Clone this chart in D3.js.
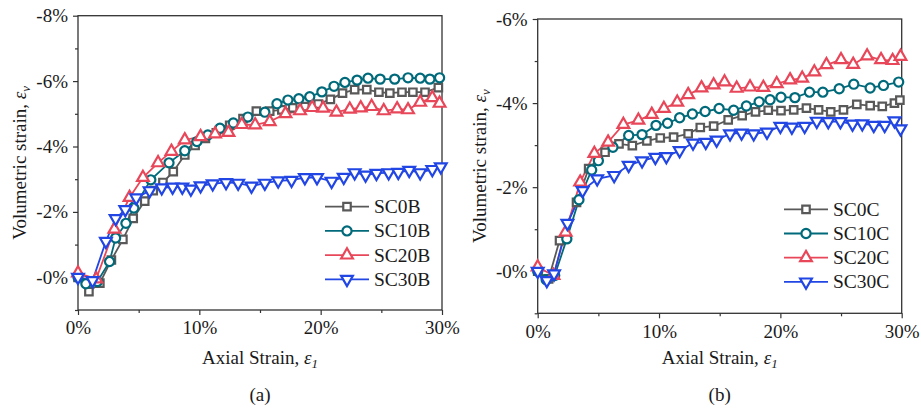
<!DOCTYPE html>
<html><head><meta charset="utf-8">
<script src="https://cdn.jsdelivr.net/npm/d3@7/dist/d3.min.js"></script>
<style>body{margin:0;background:#fff}svg{display:block}</style>
</head><body>
<svg id="chart" width="921" height="409"></svg>
<script>
// ---------- DATA: [axial strain %, volumetric strain %] ----------
const seriesNamesA = ["SC0B", "SC10B", "SC20B", "SC30B"];
const seriesNamesB = ["SC0C", "SC10C", "SC20C", "SC30C"];
const xTickValues = [0, 10, 20, 30];
const yTicksA = [-8, -6, -4, -2, 0];
const yTicksB = [-6, -4, -2, 0];

const sc0B = [[0,0],[0.9,0.44],[1.8,0.18],[2.75,-0.53],[3.7,-1.16],[4.55,-1.8],[5.5,-2.33],[6.2,-2.65],[7.0,-2.9],[7.85,-3.23],[8.8,-3.74],[9.65,-4.03],[10.5,-4.25],[11.4,-4.42],[12.5,-4.65],[13.6,-4.85],[14.7,-5.08],[15.8,-5.08],[16.8,-5.12],[17.7,-5.18],[18.7,-5.22],[19.8,-5.3],[20.8,-5.44],[21.8,-5.63],[22.8,-5.74],[23.8,-5.74],[24.8,-5.66],[25.7,-5.63],[26.7,-5.66],[27.6,-5.66],[28.6,-5.66],[29.7,-5.8]];
const sc10B = [[0,0],[0.65,0.2],[1.6,0.13],[2.6,-0.48],[3.1,-1.2],[3.95,-1.65],[4.6,-2.12],[6.0,-2.98],[7.5,-3.5],[8.8,-3.87],[9.8,-4.15],[10.7,-4.35],[11.7,-4.56],[12.8,-4.72],[14.0,-4.9],[15.4,-5.05],[16.4,-5.31],[17.3,-5.42],[18.2,-5.46],[19.1,-5.52],[20.1,-5.67],[21.1,-5.84],[22.0,-5.96],[23.0,-6.03],[23.9,-6.09],[24.9,-6.06],[26.1,-6.06],[27.2,-6.1],[28.2,-6.09],[29.0,-6.06],[29.8,-6.1]];
const sc20B = [[0,-0.13],[1.5,0.05],[3.0,-1.47],[4.25,-2.44],[5.35,-3.05],[6.6,-3.5],[7.7,-3.85],[8.8,-4.2],[10.1,-4.3],[11.3,-4.38],[12.4,-4.43],[13.5,-4.67],[14.6,-4.66],[15.8,-4.76],[17.1,-5.0],[18.3,-5.09],[19.3,-5.19],[20.2,-5.17],[21.3,-5.05],[22.4,-5.14],[23.3,-5.18],[24.2,-5.22],[25.2,-5.09],[26.3,-5.15],[27.2,-5.12],[28.2,-5.35],[29.2,-5.49],[29.8,-5.32]];
const sc30B = [[0,0],[1.2,0.1],[2.3,-1.1],[3.1,-1.8],[3.9,-2.07],[4.8,-2.43],[5.9,-2.65],[6.9,-2.74],[7.8,-2.76],[8.6,-2.76],[9.3,-2.7],[10.1,-2.8],[11.1,-2.86],[12.2,-2.9],[13.2,-2.88],[14.3,-2.79],[15.4,-2.88],[16.5,-2.95],[17.6,-2.97],[18.7,-3.05],[19.7,-3.05],[20.9,-2.94],[21.9,-3.06],[22.8,-3.2],[23.7,-3.13],[24.6,-3.18],[25.6,-3.2],[26.4,-3.21],[27.3,-3.27],[28.2,-3.2],[29.2,-3.3],[29.9,-3.38]];

const sc0C = [[0,0],[0.9,0.18],[1.8,-0.73],[3.2,-1.64],[4.2,-2.44],[5.55,-2.83],[6.7,-3.03],[7.8,-2.99],[9.0,-3.1],[10.1,-3.17],[11.2,-3.19],[12.4,-3.27],[13.4,-3.42],[14.5,-3.45],[15.7,-3.6],[16.85,-3.7],[17.95,-3.79],[19.0,-3.83],[20.05,-3.82],[21.1,-3.84],[22.15,-3.88],[23.15,-3.84],[24.15,-3.79],[25.2,-3.84],[26.3,-3.97],[27.4,-3.94],[28.4,-3.92],[29.4,-4.0],[29.85,-4.07]];
const sc10C = [[0,0],[0.7,0.2],[1.4,0.1],[2.4,-0.77],[3.4,-1.7],[4.45,-2.41],[5.0,-2.63],[6.2,-2.95],[7.5,-3.23],[8.6,-3.25],[9.75,-3.47],[10.7,-3.52],[11.7,-3.65],[12.75,-3.74],[13.8,-3.8],[14.95,-3.87],[16.15,-3.83],[17.2,-3.93],[18.25,-4.03],[19.15,-4.08],[20.05,-4.14],[21.2,-4.13],[22.4,-4.26],[23.5,-4.26],[24.85,-4.34],[26.05,-4.45],[27.4,-4.36],[28.5,-4.42],[29.75,-4.5]];
const sc20C = [[0,-0.1],[1.3,0.1],[2.3,-0.93],[3.5,-2.12],[4.67,-2.8],[5.8,-3.07],[7.06,-3.49],[8.3,-3.59],[9.4,-3.73],[10.4,-3.87],[11.5,-4.02],[12.4,-4.2],[13.5,-4.36],[14.5,-4.43],[15.4,-4.5],[16.4,-4.35],[17.5,-4.38],[18.6,-4.37],[19.7,-4.46],[20.8,-4.55],[21.8,-4.59],[22.8,-4.74],[23.8,-4.91],[25.0,-5.03],[26.0,-4.92],[27.15,-5.12],[28.3,-5.03],[29.25,-5.01],[29.9,-5.11]];
const sc30C = [[0,0],[0.75,0.22],[1.35,0.06],[2.45,-1.14],[3.7,-1.92],[4.9,-2.2],[6.3,-2.28],[7.5,-2.52],[8.6,-2.63],[9.7,-2.71],[10.6,-2.73],[11.7,-2.87],[12.8,-3.05],[13.85,-3.07],[14.75,-3.12],[15.85,-3.27],[16.8,-3.29],[17.8,-3.27],[18.9,-3.31],[20.0,-3.45],[20.95,-3.43],[22.0,-3.45],[23.0,-3.57],[23.95,-3.56],[24.95,-3.56],[25.95,-3.5],[26.75,-3.51],[27.7,-3.47],[28.6,-3.47],[29.4,-3.58],[29.9,-3.39]];

// ---------- STYLE ----------
const colors = ["#595959", "#006a7a", "#e8475a", "#2146e4"];
const shapes = ["square", "circle", "up", "down"];
const FONT = "'Liberation Serif', 'Times New Roman', serif";

const svg = d3.select("#chart");

function markerPath(shape) {
  if (shape === "square") return d3.symbol(d3.symbolSquare, 56)();
  if (shape === "circle") return d3.symbol(d3.symbolCircle, 66)();
  return d3.symbol(d3.symbolTriangle, 60)();
}

function drawPanel(cfg) {
  const g = svg.append("g");
  const x = d3.scaleLinear().domain([0, 30]).range([cfg.x0, cfg.x1]);
  const y = d3.scaleLinear().domain(cfg.yDomain).range([cfg.y1, cfg.y0]);
  const fmt = v => "-" + Math.abs(v) + "%";

  // minor ticks
  const xMinor = [5, 15, 25];
  const yMinor = d3.range(cfg.yDomain[1] + 1, cfg.yDomain[0] + 1, 2);
  g.append("g").attr("transform", `translate(0,${cfg.y1})`)
    .call(d3.axisBottom(x).tickValues(xMinor).tickSize(3).tickFormat(""))
    .call(a => a.select(".domain").remove());
  g.append("g").attr("transform", `translate(${cfg.x0},0)`)
    .call(d3.axisLeft(y).tickValues(yMinor).tickSize(3).tickFormat(""))
    .call(a => a.select(".domain").remove());

  const xa = g.append("g").attr("transform", `translate(0,${cfg.y1})`)
    .call(d3.axisBottom(x).tickValues(xTickValues).tickSize(5).tickSizeOuter(0).tickPadding(6).tickFormat(d => d + "%"));
  const ya = g.append("g").attr("transform", `translate(${cfg.x0},0)`)
    .call(d3.axisLeft(y).tickValues(cfg.yTicks).tickSize(5).tickSizeOuter(0).tickPadding(5).tickFormat(fmt));
  [xa, ya].forEach(a => {
    a.selectAll("text").attr("font-family", FONT).attr("font-size", 19).attr("fill", "#1a1a1a");
    a.select(".domain").remove();
  });
  g.selectAll(".tick line").attr("stroke", "#333").attr("stroke-width", 1.2);

  // frame
  g.append("rect").attr("x", cfg.x0).attr("y", cfg.y0)
    .attr("width", cfg.x1 - cfg.x0).attr("height", cfg.y1 - cfg.y0)
    .attr("fill", "none").attr("stroke", "#333").attr("stroke-width", 1.3);

  const line = d3.line().x(d => x(d[0])).y(d => y(d[1]));
  const plot = g.append("g");
  cfg.series.forEach((s, i) => {
    plot.append("path").datum(s).attr("d", line)
      .attr("fill", "none").attr("stroke", colors[i]).attr("stroke-width", 1.8);
  });
  cfg.series.forEach((s, i) => {
    plot.selectAll(null).data(s).enter().append("path")
      .attr("d", markerPath(shapes[i]))
      .attr("transform", d => `translate(${x(d[0])},${y(d[1])})` + (shapes[i] === "down" ? " rotate(180)" : ""))
      .attr("fill", "#fff").attr("stroke", colors[i]).attr("stroke-width", 2.2);
  });

  // legend
  cfg.names.forEach((n, i) => {
    const ly = cfg.legY + i * 24.2;
    const lg = g.append("g");
    lg.append("line").attr("x1", cfg.legX).attr("x2", cfg.legX + 44)
      .attr("y1", ly).attr("y2", ly).attr("stroke", colors[i]).attr("stroke-width", 1.8);
    lg.append("path").attr("d", markerPath(shapes[i]))
      .attr("transform", `translate(${cfg.legX + 22},${ly})` + (shapes[i] === "down" ? " rotate(180)" : ""))
      .attr("fill", "#fff").attr("stroke", colors[i]).attr("stroke-width", 2.2);
    lg.append("text").attr("x", cfg.legX + 49).attr("y", ly + 6.5)
      .attr("font-family", FONT).attr("font-size", 19.5).attr("fill", "#1a1a1a").text(n);
  });

  // axis titles
  const cx = (cfg.x0 + cfg.x1) / 2;
  const xt = g.append("text").attr("x", cx).attr("y", 364).attr("text-anchor", "middle")
    .attr("font-family", FONT).attr("font-size", 19).attr("fill", "#1a1a1a");
  xt.append("tspan").text("Axial Strain, ");
  xt.append("tspan").attr("font-style", "italic").text("ε");
  xt.append("tspan").attr("font-style", "italic").attr("font-size", 13).attr("dy", 4).text("1");

  const cy = (cfg.y0 + cfg.y1) / 2;
  const yt = g.append("text").attr("transform", `translate(${cfg.yTitleX},${cy}) rotate(-90)`)
    .attr("text-anchor", "middle").attr("font-family", FONT).attr("font-size", 19).attr("fill", "#1a1a1a");
  yt.append("tspan").text("Volumetric strain, ");
  yt.append("tspan").attr("font-style", "italic").text("ε");
  yt.append("tspan").attr("font-style", "italic").attr("font-size", 13).attr("dy", 4).text("v");

  g.append("text").attr("x", cx).attr("y", 401).attr("text-anchor", "middle")
    .attr("font-family", FONT).attr("font-size", 19).attr("fill", "#1a1a1a").text(cfg.tag);
}

drawPanel({
  x0: 78, x1: 442, y0: 15.7, y1: 310, yDomain: [1, -8], yTicks: yTicksA,
  series: [sc0B, sc10B, sc20B, sc30B], names: seriesNamesA,
  legX: 325, legY: 206.7, yTitleX: 26, tag: "(a)"
});
drawPanel({
  x0: 537.7, x1: 901.7, y0: 19, y1: 313.3, yDomain: [1, -6], yTicks: yTicksB,
  series: [sc0C, sc10C, sc20C, sc30C], names: seriesNamesB,
  legX: 784, legY: 209.3, yTitleX: 486, tag: "(b)"
});
</script>
</body></html>
